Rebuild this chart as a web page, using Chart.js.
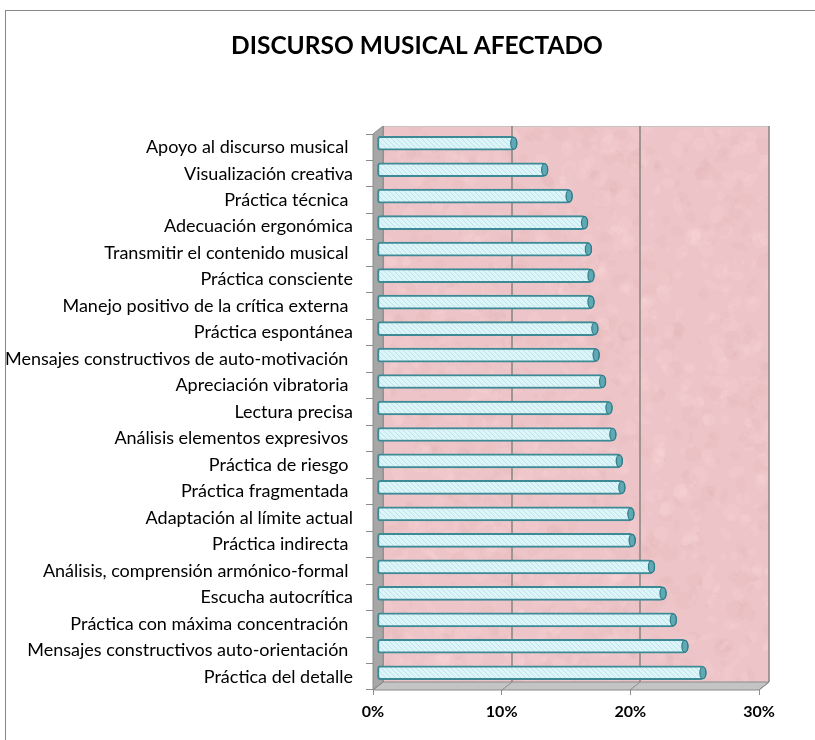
<!DOCTYPE html>
<html>
<head>
<meta charset="utf-8">
<title>Discurso musical afectado</title>
<script src="https://cdn.jsdelivr.net/npm/chart.js@4.4.0/dist/chart.umd.min.js"></script>
<style>
  body { margin: 0; background: #ffffff; }
  #wrap { width: 815px; height: 740px; }
</style>
</head>
<body>
<div id="wrap"><canvas id="discursoChart" width="815" height="740"></canvas></div>
<script>
var titulo = 'DISCURSO MUSICAL AFECTADO';

// categorias de arriba hacia abajo
var categorias = [
  'Apoyo al discurso musical ',
  'Visualización creativa',
  'Práctica técnica ',
  'Adecuación ergonómica',
  'Transmitir el contenido musical ',
  'Práctica consciente',
  'Manejo positivo de la crítica externa ',
  'Práctica espontánea',
  'Mensajes constructivos de auto-motivación ',
  'Apreciación vibratoria ',
  'Lectura precisa',
  'Análisis elementos expresivos ',
  'Práctica de riesgo ',
  'Práctica fragmentada ',
  'Adaptación al límite actual',
  'Práctica indirecta ',
  'Análisis, comprensión armónico-formal ',
  'Escucha autocrítica',
  'Práctica con máxima concentración ',
  'Mensajes constructivos auto-orientación ',
  'Práctica del detalle'
];
var porcentajes = [10.9, 13.3, 15.2, 16.4, 16.7, 16.9, 16.9, 17.2, 17.3, 17.8, 18.3,
                   18.6, 19.1, 19.3, 20.0, 20.1, 21.6, 22.5, 23.3, 24.2, 25.6];
var marcasX = [0, 10, 20, 30];

// profundidad del efecto 3D (pared del fondo) y posicion de las barras
var DX = 10, DY = -8;
var BX = 4, BY = -4;

function trama() {
  var p = document.createElement('canvas');
  p.width = 5; p.height = 5;
  var c = p.getContext('2d');
  c.fillStyle = '#ddf4f8';
  c.fillRect(0, 0, 5, 5);
  c.strokeStyle = '#b3dee6';
  c.lineWidth = 0.8;
  c.beginPath();
  c.moveTo(-1, -1); c.lineTo(6, 6);
  c.moveTo(-4, 1); c.lineTo(4, 9);
  c.moveTo(1, -4); c.lineTo(9, 4);
  c.stroke();
  return c.createPattern(p, 'repeat');
}

// fondo rosado jaspeado
function textura(w, h) {
  var t = document.createElement('canvas');
  t.width = w; t.height = h;
  var c = t.getContext('2d');
  c.fillStyle = '#edc4c7';
  c.fillRect(0, 0, w, h);
  var s = 11;
  function sig() { s = (s * 16807) % 2147483647; return s / 2147483647; }
  for (var i = 0; i < 1400; i++) {
    var x = sig() * w, y = sig() * h, r = 2 + sig() * 8;
    c.fillStyle = sig() < 0.55 ? 'rgba(252,222,224,0.16)' : 'rgba(196,146,150,0.06)';
    c.beginPath();
    c.ellipse(x, y, r, r * (0.4 + sig() * 0.6), sig() * 3, 0, Math.PI * 2);
    c.fill();
  }
  return t;
}

function poligono(c, pts, fill, stroke) {
  c.beginPath();
  c.moveTo(pts[0][0], pts[0][1]);
  for (var i = 1; i < pts.length; i++) c.lineTo(pts[i][0], pts[i][1]);
  c.closePath();
  c.fillStyle = fill;
  c.fill();
  if (stroke) { c.strokeStyle = stroke; c.stroke(); }
}

var fondo = null;

var paredes = {
  id: 'paredes',
  beforeDraw: function(chart) {
    var c = chart.ctx, a = chart.chartArea, sx = chart.scales.x;
    var w = a.right - a.left, h = a.bottom - a.top;
    c.save();
    c.fillStyle = '#ffffff';
    c.fillRect(0, 0, chart.width, chart.height);
    c.strokeStyle = '#878787';
    c.lineWidth = 1;
    c.strokeRect(5.5, 10.5, chart.width + 20, chart.height + 20);

    // titulo centrado sobre el recuadro
    c.fillStyle = '#000000';
    c.font = 'bold 24.5px Lato';
    c.textAlign = 'center';
    c.textBaseline = 'middle';
    c.fillText(titulo, 417, 46);

    // pared del fondo
    if (!fondo) fondo = textura(Math.ceil(w), Math.ceil(h));
    c.drawImage(fondo, a.left + DX, a.top + DY, w, h);
    c.strokeStyle = '#c4c4c4';
    c.beginPath();
    c.moveTo(a.left + DX, a.top + DY + 0.5);
    c.lineTo(a.right + DX, a.top + DY + 0.5);
    c.stroke();

    // lineas de division en el fondo
    c.lineWidth = 1.5;
    c.strokeStyle = '#898381';
    marcasX.forEach(function(v) {
      var px = Math.round(sx.getPixelForValue(v));
      c.beginPath();
      c.moveTo(px + DX, a.top + DY);
      c.lineTo(px + DX, a.bottom + DY);
      c.stroke();
    });

    // pared izquierda
    c.lineWidth = 1;
    poligono(c, [[a.left, a.top], [a.left + DX, a.top + DY], [a.left + DX, a.bottom + DY], [a.left, a.bottom]], '#a6a6a6', '#8c8c8c');

    // piso
    poligono(c, [[a.left, a.bottom], [a.left + DX, a.bottom + DY], [a.right + DX, a.bottom + DY], [a.right, a.bottom]], '#c4c4c4', '#8c8c8c');
    c.strokeStyle = '#8c8c8c';
    marcasX.forEach(function(v) {
      var px = Math.round(sx.getPixelForValue(v));
      c.beginPath();
      c.moveTo(px, a.bottom);
      c.lineTo(px + DX, a.bottom + DY);
      c.stroke();
    });
    c.restore();
  },
  beforeDatasetsDraw: function(chart) {
    chart.ctx.save();
    chart.ctx.translate(BX, BY);
  },
  afterDatasetsDraw: function(chart) {
    var c = chart.ctx;
    // tapa del cilindro al final de cada barra
    chart.getDatasetMeta(0).data.forEach(function(b) {
      var h = b.height / 2 - 1;
      c.beginPath();
      c.ellipse(b.x - 3.5, b.y, 3, h, 0, 0, Math.PI * 2);
      c.fillStyle = '#5ea9b4';
      c.fill();
      c.lineWidth = 1.2;
      c.strokeStyle = '#2f7b87';
      c.stroke();
    });
    c.restore();
  }
};

var ctx = document.getElementById('discursoChart');

var chart = new Chart(ctx, {
  type: 'bar',
  data: {
    labels: categorias,
    datasets: [{
      label: titulo,
      data: porcentajes,
      backgroundColor: trama(),
      borderColor: '#3c8a96',
      borderWidth: 2,
      borderSkipped: false,
      borderRadius: { topLeft: 3, bottomLeft: 3, topRight: 6, bottomRight: 6 },
      barThickness: 14
    }]
  },
  options: {
    indexAxis: 'y',
    responsive: false,
    animation: false,
    layout: { padding: { left: 0, right: 0, top: 134, bottom: 0 } },
    plugins: {
      legend: { display: false },
      tooltip: { enabled: false },
      title: { display: false }
    },
    scales: {
      x: {
        min: marcasX[0],
        max: marcasX[marcasX.length - 1],
        ticks: {
          stepSize: 10,
          color: '#000000',
          padding: 7,
          font: { family: 'Lato', size: 16, weight: 'bold' },
          callback: function(v) { return v + '%'; }
        },
        grid: { drawOnChartArea: false, color: '#8c8c8c', tickLength: 5 },
        border: { display: false },
        afterFit: function(s) { s.height = 50; }
      },
      y: {
        ticks: {
          color: '#000000',
          padding: 13,
          autoSkip: false,
          font: { family: 'Lato', size: 18 }
        },
        grid: { drawOnChartArea: false, color: '#8c8c8c', tickLength: 7 },
        border: { display: false },
        afterFit: function(s) { s.width = 373; }
      },
      // eje vacio a la derecha que deja el margen tras el 30%
      margen: {
        type: 'linear',
        position: 'right',
        display: true,
        grid: { display: false },
        ticks: { display: false },
        border: { display: false },
        afterFit: function(s) { s.width = 56; }
      }
    }
  },
  plugins: [paredes]
});
</script>
</body>
</html>
